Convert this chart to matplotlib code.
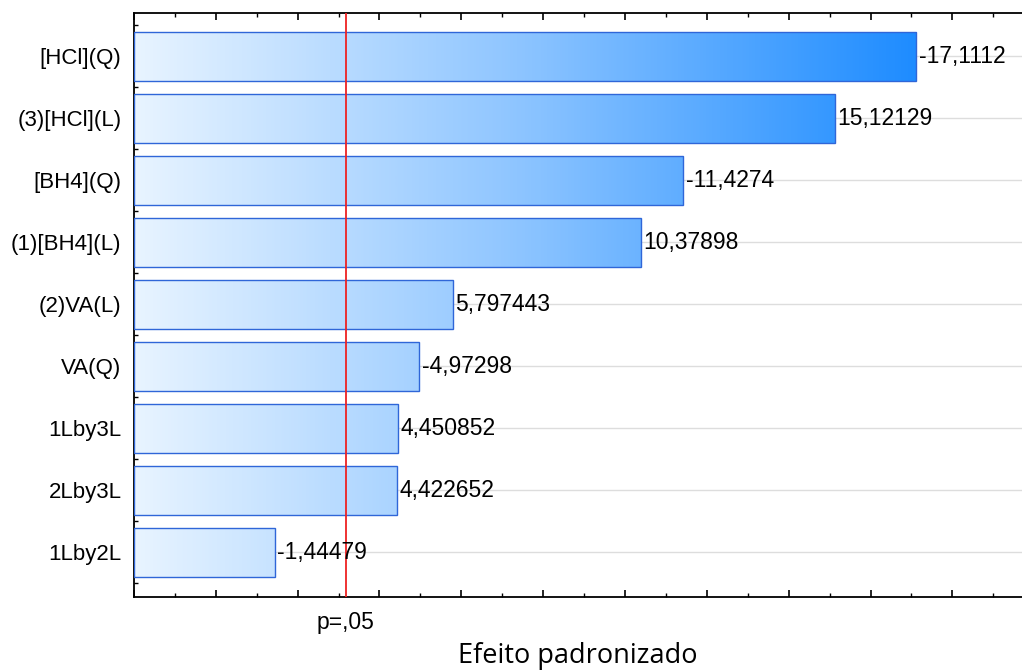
import numpy as np
import matplotlib
matplotlib.use("Agg")
import matplotlib.pyplot as plt
from matplotlib.colors import LinearSegmentedColormap, Normalize
from matplotlib.ticker import MultipleLocator
import matplotlib.transforms as mtransforms

# dados do gráfico de Pareto
efeitos = ["[HCl](Q)", "(3)[HCl](L)", "[BH4](Q)", "(1)[BH4](L)", "(2)VA(L)",
           "VA(Q)", "1Lby3L", "2Lby3L", "1Lby2L"]
valores = [-17.1112, 15.12129, -11.4274, 10.37898, 5.797443,
           -4.97298, 4.450852, 4.422652, -1.44479]
rotulos = ["-17,1112", "15,12129", "-11,4274", "10,37898", "5,797443",
           "-4,97298", "4,450852", "4,422652", "-1,44479"]
p_critico = 3.182
p_rotulo = "p=,05"

x_min, x_max = -2.0, 19.7

fig = plt.figure(figsize=(10.22, 6.72), dpi=100)
ax = fig.add_axes([0.131, 0.1116, 0.869, 0.8691])

cmap = LinearSegmentedColormap.from_list("azul", ["#e8f4ff", "#8cc4ff", "#1e8cff"])
grad = np.linspace(x_min, x_max, 600).reshape(1, -1)
norm = Normalize(vmin=x_min, vmax=17.11)

y = np.arange(len(efeitos))
abs_vals = np.abs(valores)

# linhas de grade horizontais
for yi in y:
    ax.axhline(yi, color="#dddddd", lw=1, zorder=0)

barras = ax.barh(y, abs_vals - x_min, left=x_min, height=0.8,
                 facecolor="none", edgecolor="#2f66d8", lw=1.0, zorder=3)
for b in barras:
    im = ax.imshow(grad, cmap=cmap, norm=norm, aspect="auto",
                   extent=[x_min, x_max, -1, 10], zorder=2, interpolation="bilinear")
    im.set_clip_path(b)

for yi, v, txt in zip(y, abs_vals, rotulos):
    ax.text(v + 0.06, yi, txt, ha="left", va="center", fontsize=16.5,
            family="Liberation Sans", zorder=5)

ax.axvline(p_critico, color="#ee2222", lw=1.3, zorder=4)

ax.set_xlim(x_min, x_max)
ax.set_ylim(len(efeitos) - 1 + 0.72, -0.7)
ax.set_yticks(y)
ax.set_yticklabels(efeitos, fontsize=16, family="Liberation Sans")
ax.yaxis.set_minor_locator(MultipleLocator(0.25))
ax.xaxis.set_major_locator(MultipleLocator(2))
ax.xaxis.set_minor_locator(MultipleLocator(1))
ax.set_xticklabels([])
ax.tick_params(axis="both", which="both", direction="in", top=True, right=False)
ax.tick_params(axis="both", which="major", length=5, width=1.2)
ax.tick_params(axis="both", which="minor", length=3, width=1)
ax.tick_params(axis="y", pad=9)
for s in ["left", "bottom", "top"]:
    ax.spines[s].set_linewidth(1.3)
ax.spines["right"].set_visible(False)

trans = mtransforms.blended_transform_factory(ax.transData, ax.transAxes)
ax.text(p_critico, -0.043, p_rotulo, transform=trans, ha="center", va="center",
        fontsize=16.5, family="Liberation Sans")

fig.text(0.5655, 0.014, "Efeito padronizado", ha="center", va="baseline",
         fontsize=19.5, family="Open Sans")

fig.savefig("out.png", dpi=100)
